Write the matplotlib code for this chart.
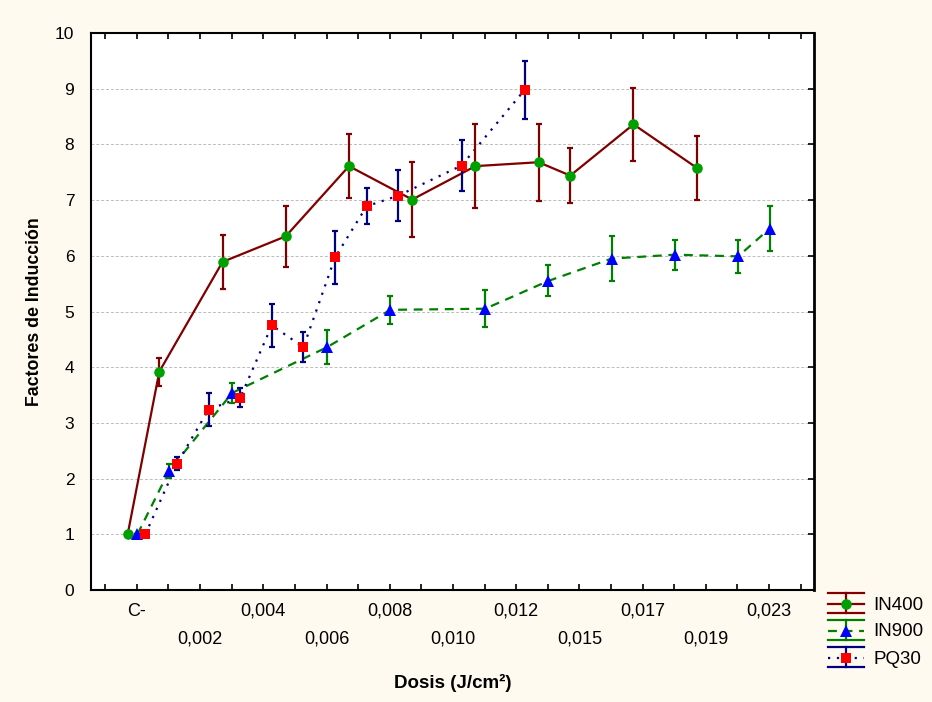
import matplotlib
matplotlib.use('Agg')
import matplotlib.pyplot as plt

plt.rcParams['font.family'] = ['Liberation Sans', 'DejaVu Sans']

# === Data ===
# dose categories sit at positions 1..21, only every other one is labelled
dose_labels = ['C-', '', '0,002', '', '0,004', '', '0,006', '', '0,008', '',
               '0,010', '', '0,012', '', '0,015', '', '0,017', '', '0,019', '',
               '0,023']

in400_x = [1, 2, 4, 6, 8, 10, 12, 14, 15, 17, 19]
in400_y = [1.00, 3.92, 5.89, 6.35, 7.61, 7.01, 7.61, 7.68, 7.44, 8.36, 7.58]
in400_err = [0.0, 0.25, 0.48, 0.55, 0.57, 0.67, 0.76, 0.69, 0.49, 0.66, 0.57]

in900_x = [1, 2, 4, 7, 9, 12, 14, 16, 18, 20, 21]
in900_y = [1.00, 2.14, 3.54, 4.36, 5.03, 5.05, 5.55, 5.95, 6.02, 5.99, 6.49]
in900_err = [0.0, 0.13, 0.18, 0.30, 0.25, 0.33, 0.28, 0.40, 0.27, 0.30, 0.40]

pq30_x = [1, 2, 3, 4, 5, 6, 7, 8, 9, 11, 13]
pq30_y = [1.00, 2.27, 3.24, 3.45, 4.75, 4.36, 5.97, 6.89, 7.08, 7.62, 8.98]
pq30_err = [0.0, 0.12, 0.30, 0.17, 0.39, 0.27, 0.47, 0.32, 0.46, 0.46, 0.52]

# === Styles ===
series = [
    # name, x, y, err, dodge, line color, linestyle, marker, marker color, marker size
    ('IN400', in400_x, in400_y, in400_err, -0.29, '#800000', '-', 'o', '#00a000', 7.6),
    ('IN900', in900_x, in900_y, in900_err, 0.02, '#008000', (0, (4, 3)), '^', '#0000ff', 8),
    ('PQ30', pq30_x, pq30_y, pq30_err, 0.27, '#000080', (0, (1, 3)), 's', '#ff0000', 7.3),
]
BG = '#fffaf0'

fig = plt.figure(figsize=(9.32, 7.02), dpi=100, facecolor=BG)
ax = fig.add_axes([91 / 932, 112 / 702, 723 / 932, 557 / 702])
ax.set_facecolor('white')

for name, xs, ys, errs, dodge, lc, ls, mk, mc, ms in series:
    xp = [x + dodge for x in xs]
    ax.plot(xp, ys, color=lc, linestyle=ls, linewidth=1.6, zorder=3)
    ax.errorbar(xp, ys, yerr=errs, fmt='none', ecolor=lc, elinewidth=1.6,
                capsize=2.5, capthick=1.6, zorder=4)
    ax.plot(xp, ys, linestyle='none', marker=mk, color=mc, markersize=ms,
            markeredgewidth=0, zorder=5)

# === Axes ===
ax.set_xlim(-0.45, 22.42)
ax.set_ylim(0, 10)
ax.set_yticks(range(0, 11))
ax.set_yticklabels([str(v) for v in range(0, 11)], fontsize=12.5)

tick_pos = list(range(0, 23))
tick_txt = [''] + [('\n' + lab if (i % 4 == 2 and lab) else lab)
                   for i, lab in enumerate(dose_labels)] + ['']
ax.set_xticks(tick_pos)
ax.set_xticklabels(tick_txt, fontsize=13)
for lab in ax.get_xticklabels():
    lab.set_linespacing(1.85)

ax.tick_params(axis='x', direction='in', length=4, width=1.2, top=True, pad=9)
ax.tick_params(axis='y', which='both', left=False, right=True, direction='in',
               length=4, width=1.2, pad=12)

ax.yaxis.grid(True, color='#bcbcbc', linestyle=(0, (3, 2)), linewidth=0.7)
ax.set_axisbelow(True)
for sp in ax.spines.values():
    sp.set_linewidth(1.5)
ax.spines['right'].set_linewidth(2.0)

ax.set_ylabel('Factores de Inducción', fontsize=12.8, fontweight='bold')
ax.yaxis.set_label_coords(-0.066, 0.5)
ax.set_xlabel('Dosis (J/cm²)', fontsize=13.5, fontweight='bold')
ax.xaxis.set_label_coords(0.5, -0.15)

# === Legend (drawn by hand, STATISTICA style) ===
lax = fig.add_axes([826 / 932, 30 / 702, 106 / 932, 84 / 702])
lax.set_xlim(826, 932)
lax.set_ylim(672, 588)
lax.axis('off')
for i, (name, xs, ys, errs, dodge, lc, ls, mk, mc, ms) in enumerate(series):
    top = 593 + 27 * i
    mid = top + 10.5
    bot = top + 20
    lax.plot([828, 864], [top, top], color=lc, linewidth=1.6)
    lax.plot([828, 864], [bot, bot], color=lc, linewidth=1.6)
    lax.plot([846, 846], [top, bot], color=lc, linewidth=1.6)
    lax.plot([828, 864], [mid, mid], color=lc, linestyle=ls, linewidth=1.6)
    lax.plot([846], [mid], marker=mk, color=mc, markersize=ms, markeredgewidth=0)
    lax.text(873, mid + 1.5, name, fontsize=13.5, va='center', ha='left')

plt.savefig('out.png', dpi=100, facecolor=BG)
plt.close()
